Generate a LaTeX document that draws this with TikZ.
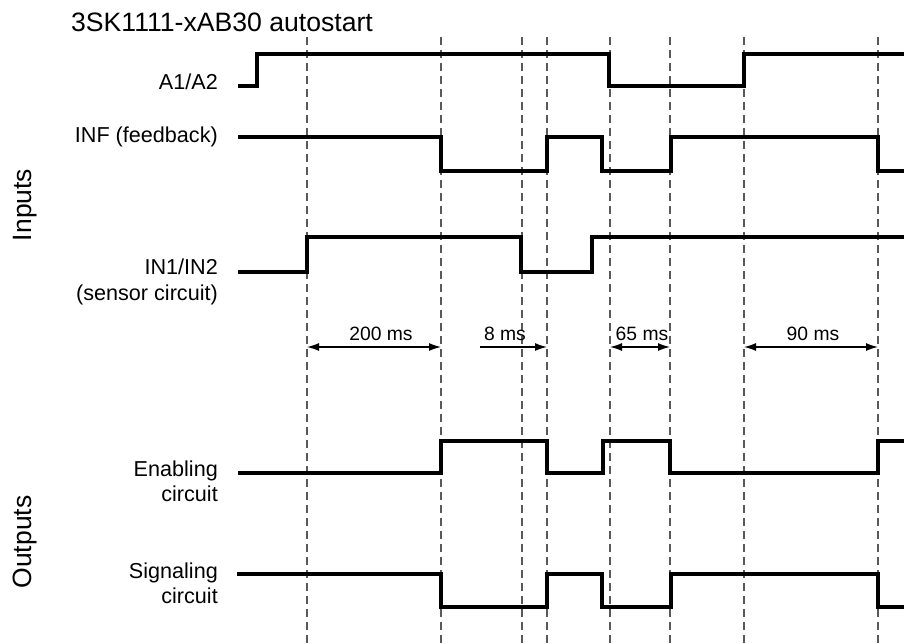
\documentclass[tikz,border=0pt]{standalone}
\usepackage{fontspec}
\setmainfont{Liberation Sans}
\usetikzlibrary{arrows.meta}
\begin{document}
\begin{tikzpicture}[x=1pt,y=-1pt,
  wave/.style={line width=3.4pt,line join=miter,line cap=butt},
  guide/.style={draw=black!65,line width=1.1pt,dash pattern=on 8pt off 5pt},
  dim/.style={line width=1.3pt,{Latex[length=12pt,width=8pt]}-{Latex[length=12pt,width=8pt]}},
  dimr/.style={line width=1.3pt,-{Latex[length=12pt,width=8pt]}},
  lbl/.style={font=\fontsize{21.6}{25}\selectfont,inner sep=0pt,anchor=base east},
  dlbl/.style={font=\fontsize{19.3}{22}\selectfont,inner sep=0pt,anchor=base},
  grp/.style={font=\fontsize{26.5}{30}\selectfont,inner sep=0pt,rotate=90,anchor=center}]
\useasboundingbox (0,0) rectangle (904,644);
% guide lines
\foreach \n/\x in {a/307,b/441,c/522,d/547,e/610,f/670,g/744,h/878}{
  \coordinate (t\n) at (\x,37);
  \coordinate (b\n) at (\x,644);
  \draw[guide] (t\n) -- (b\n);
}
% title and group labels
\node[font=\fontsize{26.6}{30}\selectfont,inner sep=0pt,anchor=base west] (title) at (71,32) {3SK1111-xAB30 autostart};
\node[grp] (inputs) at (25,205) {Inputs};
\node[grp] (outputs) at (25,542) {Outputs};
% signal labels
\node[lbl] (la) at (218,90) {A1/A2};
\node[lbl] (linf) at (218,143) {INF (feedback)};
\node[lbl] (lin1) at (218,274) {IN1/IN2};
\node[lbl] (lin2) at (218,300) {(sensor circuit)};
\node[lbl] (len1) at (218,476) {Enabling};
\node[lbl] (len2) at (218,501) {circuit};
\node[lbl] (lsg1) at (218,578) {Signaling};
\node[lbl] (lsg2) at (218,603) {circuit};
% waveforms
\draw[wave] (238,86) -- (257,86) -- (257,54) -- (609,54) -- (609,86) -- (744,86) -- (744,54) -- (904,54);
\draw[wave] (238,137) -- (441,137) -- (441,171) -- (547,171) -- (547,137) -- (602,137) -- (602,171) -- (671,171) -- (671,137) -- (878,137) -- (878,171) -- (904,171);
\draw[wave] (238,272) -- (307,272) -- (307,237) -- (521,237) -- (521,272) -- (592,272) -- (592,237) -- (904,237);
\draw[wave] (238,473) -- (441,473) -- (441,441) -- (547,441) -- (547,473) -- (603,473) -- (603,441) -- (670,441) -- (670,473) -- (878,473) -- (878,441) -- (904,441);
\draw[wave] (237,574) -- (441,574) -- (441,607) -- (547,607) -- (547,574) -- (602,574) -- (602,607) -- (671,607) -- (671,574) -- (878,574) -- (878,607) -- (904,607);
% dimensions
\coordinate (da1) at (307,347); \coordinate (da2) at (441,347);
\coordinate (db1) at (480,347); \coordinate (db2) at (547,347);
\coordinate (dc1) at (610,347); \coordinate (dc2) at (670,347);
\coordinate (dd1) at (744,347); \coordinate (dd2) at (878,347);
\draw[dim] (da1) -- (da2);
\draw[dimr] (db1) -- (db2);
\draw[dim] (dc1) -- (dc2);
\draw[dim] (dd1) -- (dd2);
\node[dlbl] (d200) at (381,340) {200 ms};
\node[dlbl] (d8) at (505,340) {8 ms};
\node[dlbl] (d65) at (642,340) {65 ms};
\node[dlbl] (d90) at (813,340) {90 ms};
\end{tikzpicture}
\end{document}
